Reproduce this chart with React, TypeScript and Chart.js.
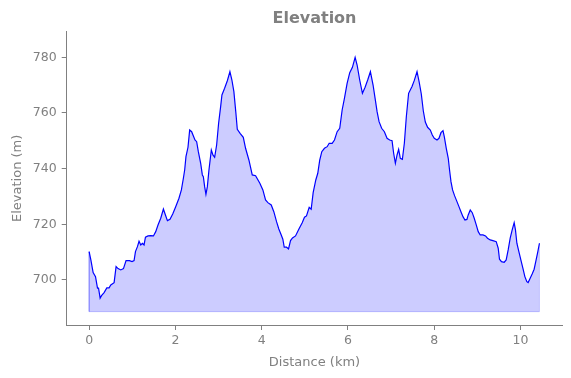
import React, { useEffect, useRef } from "react";
import { Chart, registerables } from "chart.js";

Chart.register(...registerables);

const distanceKm = [
  0, 0.04, 0.093, 0.148, 0.194, 0.218, 0.255, 0.287, 0.347, 0.41, 0.463, 0.502, 0.579, 0.625, 0.671, 0.734,
  0.796, 0.856, 0.935, 0.995, 1.042, 1.074, 1.12, 1.157, 1.197, 1.236, 1.273, 1.306, 1.366, 1.428, 1.491,
  1.544, 1.597, 1.66, 1.722, 1.769, 1.815, 1.875, 1.938, 2.007, 2.083, 2.139, 2.185, 2.215, 2.245, 2.292,
  2.331, 2.377, 2.417, 2.454, 2.493, 2.532, 2.586, 2.625, 2.648, 2.678, 2.708, 2.741, 2.778, 2.833, 2.87,
  2.91, 2.956, 3.002, 3.049, 3.079, 3.141, 3.204, 3.264, 3.31, 3.356, 3.403, 3.435, 3.5, 3.574, 3.627,
  3.704, 3.782, 3.859, 3.958, 4.028, 4.09, 4.144, 4.222, 4.282, 4.345, 4.398, 4.454, 4.491, 4.523, 4.576,
  4.623, 4.669, 4.715, 4.785, 4.861, 4.94, 4.993, 5.039, 5.102, 5.148, 5.194, 5.255, 5.301, 5.347, 5.394,
  5.456, 5.519, 5.565, 5.634, 5.688, 5.75, 5.81, 5.866, 5.919, 5.981, 6.042, 6.104, 6.167, 6.213, 6.273,
  6.336, 6.398, 6.458, 6.521, 6.583, 6.63, 6.676, 6.722, 6.782, 6.845, 6.907, 6.968, 7.023, 7.06, 7.1,
  7.139, 7.176, 7.215, 7.262, 7.308, 7.354, 7.407, 7.486, 7.539, 7.602, 7.65, 7.701, 7.748, 7.794, 7.847,
  7.91, 7.956, 8.002, 8.065, 8.111, 8.157, 8.204, 8.234, 8.28, 8.326, 8.356, 8.389, 8.426, 8.472, 8.528,
  8.574, 8.62, 8.667, 8.713, 8.759, 8.789, 8.836, 8.882, 8.928, 8.975, 9.021, 9.067, 9.13, 9.19, 9.236,
  9.299, 9.361, 9.438, 9.484, 9.514, 9.56, 9.623, 9.669, 9.715, 9.762, 9.808, 9.854, 9.884, 9.917, 9.963,
  10.009, 10.056, 10.102, 10.148, 10.178, 10.225, 10.271, 10.317, 10.363, 10.403, 10.44,
];

const elevationM = [
  710.17, 707.18, 702.62, 701.19, 697.02, 697.02, 693.43, 694.36, 695.44, 697.13, 697.13, 698.2, 699.03,
  704.78, 704.06, 703.59, 704.06, 706.93, 706.93, 706.57, 706.93, 710.17, 711.96, 713.9, 712.57, 713.18,
  712.57, 715.34, 715.8, 715.91, 715.8, 717.35, 719.76, 722.16, 725.5, 723.35, 721.3, 721.8, 723.71,
  726.33, 729.35, 732.33, 736.53, 739.51, 744.29, 747.67, 753.88, 753.27, 751.72, 750.29, 749.68, 746.08,
  741.92, 737.72, 737.1, 733.51, 730.78, 733.51, 739.51, 746.7, 744.9, 744.07, 748.49, 756.29, 762.25,
  766.45, 768.86, 771.59, 774.82, 771.84, 767.64, 759.88, 754.13, 752.7, 751.26, 747.31, 743.1, 737.72,
  737.46, 734.73, 732.33, 728.74, 727.77, 726.94, 724.53, 720.94, 718.32, 716.16, 714.62, 711.75, 711.75,
  711.14, 714.12, 715.09, 715.8, 718.21, 720.58, 722.52, 722.99, 726.11, 725.4, 731.36, 735.92, 738.33,
  743.1, 746.08, 747.31, 747.88, 749.1, 749.1, 750.29, 753.27, 754.49, 761.06, 765.27, 770.65, 774.46,
  776.4, 779.99, 777.23, 771.84, 767.06, 769.22, 771.84, 774.82, 770.04, 765.27, 760.45, 756.86, 754.49,
  753.27, 750.9, 750.29, 750.04, 745.51, 741.92, 744.9, 746.95, 743.71, 743.36, 749.1, 758.66, 767.06,
  769.5, 771.7, 774.82, 771.23, 766.81, 760.7, 756.75, 754.85, 753.88, 752.08, 750.9, 750.29, 750.9,
  752.91, 753.63, 751.47, 747.31, 743.71, 739.51, 735.31, 732.33, 730.28, 728.13, 726.33, 724.53, 722.74,
  721.55, 721.73, 723.35, 725.14, 724.17, 722.16, 719.76, 717.35, 716.16, 716.16, 715.8, 714.98, 714.37,
  714.12, 713.76, 711.39, 707.44, 706.57, 706.36, 707.18, 710.78, 714.98, 717.96, 720.58, 717.96, 713.18,
  710.17, 707.18, 704.2, 701.19, 699.39, 699.03, 700.61, 702.16, 703.84, 707.18, 710.17, 713.18,
];

const fillBase = 688.6;
const xTicks = [0, 2, 4, 6, 8, 10];
const yTicks = [700, 720, 740, 760, 780];
const xRange = [-0.52, 10.97];
const yRange = [683.8, 789.2];

const GRAY = "#808080";
const FONT = "'DejaVu Sans', sans-serif";

export default function App() {
  const canvasRef = useRef<HTMLCanvasElement | null>(null);

  useEffect(() => {
    const canvas = canvasRef.current;
    if (!canvas) return;
    const lastX = distanceKm[distanceKm.length - 1];
    const lineData = distanceKm.map((x, i) => ({ x, y: elevationM[i] }));
    const edgeData = [
      { x: distanceKm[0], y: elevationM[0] },
      { x: distanceKm[0], y: fillBase },
      { x: lastX, y: fillBase },
      { x: lastX, y: elevationM[elevationM.length - 1] },
    ];

    const chart = new Chart(canvas, {
      type: "line",
      data: {
        datasets: [
          {
            data: lineData,
            borderColor: "#0000ff",
            borderWidth: 1.2,
            backgroundColor: "rgba(0,0,255,0.2)",
            fill: { value: fillBase },
            pointRadius: 0,
            tension: 0,
          },
          {
            data: edgeData,
            borderColor: "rgba(0,0,255,0.2)",
            borderWidth: 1,
            fill: false,
            pointRadius: 0,
            tension: 0,
          },
        ],
      },
      options: {
        animation: false,
        responsive: false,
        maintainAspectRatio: false,
        layout: { padding: { left: 0, right: 8.7, top: 0, bottom: 0 } },
        plugins: {
          legend: { display: false },
          tooltip: { enabled: false },
          title: {
            display: true,
            text: "Elevation",
            color: GRAY,
            fullSize: false,
            font: { family: FONT, size: 16, weight: "bold", lineHeight: 1.2 },
            padding: { top: 9, bottom: 3.5 },
          },
        },
        scales: {
          x: {
            type: "linear",
            min: xRange[0],
            max: xRange[1],
            afterFit: (s: any) => {
              s.height = 53;
            },
            afterBuildTicks: (s: any) => {
              s.ticks = xTicks.map((v) => ({ value: v }));
            },
            ticks: {
              color: GRAY,
              font: { family: FONT, size: 12.5 },
              padding: 3,
              maxRotation: 0,
              autoSkip: false,
              callback: (v: any) => String(v),
            },
            grid: { display: true, drawOnChartArea: false, drawTicks: true, tickLength: 5, color: GRAY },
            border: { display: true, color: GRAY, width: 1 },
            title: {
              display: true,
              text: "Distance (km)",
              color: GRAY,
              font: { family: FONT, size: 13, lineHeight: 1.2 },
              padding: { top: 0, bottom: 7.5 },
            },
          },
          y: {
            type: "linear",
            min: yRange[0],
            max: yRange[1],
            afterFit: (s: any) => {
              s.width = 66.7;
            },
            afterBuildTicks: (s: any) => {
              s.ticks = yTicks.map((v) => ({ value: v }));
            },
            ticks: {
              color: GRAY,
              font: { family: FONT, size: 12.5 },
              padding: 5,
              autoSkip: false,
              callback: (v: any) => String(v),
            },
            grid: { display: true, drawOnChartArea: false, drawTicks: true, tickLength: 5, color: GRAY },
            border: { display: true, color: GRAY, width: 1 },
            title: {
              display: true,
              text: "Elevation (m)",
              color: GRAY,
              font: { family: FONT, size: 13, lineHeight: 1.2 },
              padding: { top: 10, bottom: 0 },
            },
          },
        },
      },
    });
    return () => chart.destroy();
  }, []);

  return (
    <div style={{ position: "fixed", left: 0, top: 0, width: 571, height: 378, background: "#fff" }}>
      <canvas ref={canvasRef} width={571} height={378} style={{ width: 571, height: 378, display: "block" }} />
    </div>
  );
}
